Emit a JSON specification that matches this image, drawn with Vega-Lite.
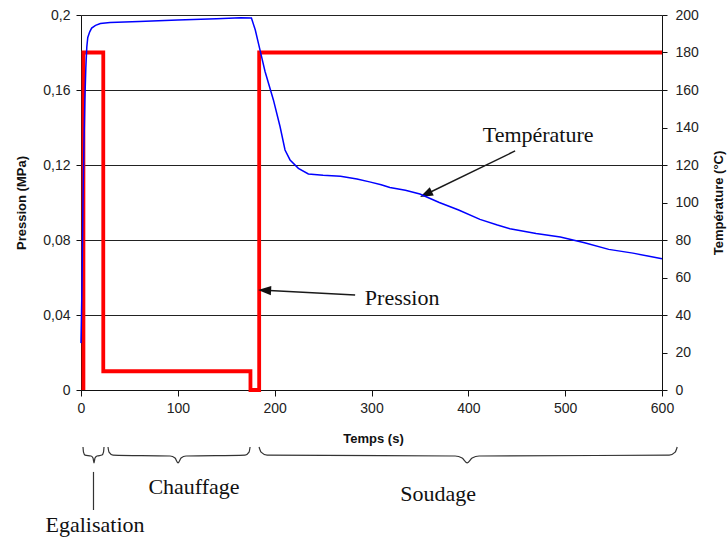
{
  "$schema": "https://vega.github.io/schema/vega-lite/v6.json",
  "width": 581,
  "height": 375,
  "autosize": {"type": "none"},
  "padding": {"left": 81, "top": 15, "right": 65, "bottom": 149},
  "background": "white",
  "config": {
    "view": {"stroke": null},
    "axis": {
      "labelFont": "Liberation Sans",
      "labelFontSize": 14,
      "labelColor": "#222222",
      "titleFont": "Liberation Sans",
      "titleFontSize": 13,
      "titleFontWeight": "bold",
      "titleColor": "#111111",
      "domainColor": "#111111",
      "tickColor": "#111111",
      "domainWidth": 1,
      "tickWidth": 1,
      "gridColor": "#222222",
      "gridWidth": 1,
      "gridOpacity": 1
    }
  },
  "datasets": {
    "pression": [
      {"i": 0, "t": 2.5, "P": 0},
      {"i": 1, "t": 2.5, "P": 0.18},
      {"i": 2, "t": 23, "P": 0.18},
      {"i": 3, "t": 23, "P": 0.01},
      {"i": 4, "t": 175, "P": 0.01},
      {"i": 5, "t": 175, "P": 0},
      {"i": 6, "t": 184, "P": 0},
      {"i": 7, "t": 184, "P": 0.18},
      {"i": 8, "t": 600, "P": 0.18}
    ],
    "temperature": [
      {"t": 0, "T": 25}, {"t": 1, "T": 55}, {"t": 2, "T": 100}, {"t": 3, "T": 130},
      {"t": 4, "T": 155}, {"t": 5, "T": 172}, {"t": 6, "T": 183}, {"t": 7, "T": 188},
      {"t": 9, "T": 191}, {"t": 11, "T": 193}, {"t": 15, "T": 194.5}, {"t": 20, "T": 195.5},
      {"t": 30, "T": 196}, {"t": 60, "T": 196.5}, {"t": 100, "T": 197.3}, {"t": 140, "T": 198},
      {"t": 165, "T": 198.5}, {"t": 176, "T": 198.4}, {"t": 180, "T": 192}, {"t": 185, "T": 181},
      {"t": 190, "T": 170}, {"t": 198.7, "T": 154.7}, {"t": 205.6, "T": 140.4}, {"t": 210.7, "T": 128},
      {"t": 215.9, "T": 122.7}, {"t": 224.5, "T": 118.2}, {"t": 234.8, "T": 115.2}, {"t": 250, "T": 114.5},
      {"t": 268, "T": 114}, {"t": 285, "T": 112.5}, {"t": 298, "T": 111}, {"t": 310, "T": 109.5},
      {"t": 319, "T": 108}, {"t": 335, "T": 106.5}, {"t": 350, "T": 104.5}, {"t": 370, "T": 100},
      {"t": 390, "T": 96}, {"t": 412, "T": 91}, {"t": 430, "T": 88}, {"t": 443, "T": 86},
      {"t": 470, "T": 83.5}, {"t": 495, "T": 81.6}, {"t": 520, "T": 78.5}, {"t": 545, "T": 75},
      {"t": 570, "T": 73}, {"t": 600, "T": 70}
    ],
    "braces": [
      {"g": "E", "t": 2.07, "P": -0.0304}, {"g": "E", "t": 2.58, "P": -0.0331}, {"g": "E", "t": 4.13, "P": -0.0347},
      {"g": "E", "t": 10.33, "P": -0.0352}, {"g": "E", "t": 12.4, "P": -0.0363}, {"g": "E", "t": 13.43, "P": -0.0389},
      {"g": "E", "t": 14.46, "P": -0.0363}, {"g": "E", "t": 16.53, "P": -0.0352}, {"g": "E", "t": 21.69, "P": -0.0347},
      {"g": "E", "t": 23.24, "P": -0.0331}, {"g": "E", "t": 23.76, "P": -0.0304},
      {"g": "C", "t": 27.89, "P": -0.0304}, {"g": "C", "t": 28.93, "P": -0.0331}, {"g": "C", "t": 33.06, "P": -0.0347},
      {"g": "C", "t": 91.94, "P": -0.0352}, {"g": "C", "t": 97.11, "P": -0.0363}, {"g": "C", "t": 100.21, "P": -0.0389},
      {"g": "C", "t": 103.31, "P": -0.0363}, {"g": "C", "t": 108.47, "P": -0.0352}, {"g": "C", "t": 169.42, "P": -0.0347},
      {"g": "C", "t": 173.55, "P": -0.0331}, {"g": "C", "t": 174.59, "P": -0.0304},
      {"g": "S", "t": 183.88, "P": -0.0304}, {"g": "S", "t": 185.95, "P": -0.0331}, {"g": "S", "t": 192.15, "P": -0.0347},
      {"g": "S", "t": 386.36, "P": -0.0352}, {"g": "S", "t": 393.6, "P": -0.0363}, {"g": "S", "t": 398.76, "P": -0.0389},
      {"g": "S", "t": 403.93, "P": -0.0363}, {"g": "S", "t": 411.16, "P": -0.0352}, {"g": "S", "t": 607.44, "P": -0.0347},
      {"g": "S", "t": 613.64, "P": -0.0331}, {"g": "S", "t": 615.7, "P": -0.0304}
    ],
    "stem": [
      {"i": 0, "t": 12.9, "P": -0.0437},
      {"i": 1, "t": 12.9, "P": -0.064}
    ],
    "arrows": [
      {"g": "T", "i": 0, "t": 448.3, "P": 0.1275},
      {"g": "T", "i": 1, "t": 356.2, "P": 0.1044},
      {"g": "P", "i": 0, "t": 283.1, "P": 0.0507},
      {"g": "P", "i": 1, "t": 189.6, "P": 0.0532}
    ],
    "labels": [
      {"label": "Température", "t": 472.1, "P": 0.1323},
      {"label": "Pression", "t": 331.6, "P": 0.0453},
      {"label": "Egalisation", "t": 14.46, "P": -0.0757},
      {"label": "Chauffage", "t": 116.7, "P": -0.0555},
      {"label": "Soudage", "t": 368.8, "P": -0.0592}
    ]
  },
  "layer": [
    {
      "layer": [
        {
          "data": {"name": "pression"},
          "mark": {"type": "line", "color": "#ff0000", "strokeWidth": 3.8, "strokeJoin": "miter", "strokeCap": "butt", "clip": false},
          "encoding": {
            "x": {
              "field": "t", "type": "quantitative",
              "scale": {"domain": [0, 600], "nice": false, "zero": false},
              "axis": {
                "title": "Temps (s)",
                "values": [0, 100, 200, 300, 400, 500, 600],
                "grid": false,
                "tickSize": 6,
                "labelPadding": 5,
                "labelFlush": false,
                "titleX": 292,
                "titleY": 48,
                "titleBaseline": "middle"
              }
            },
            "y": {
              "field": "P", "type": "quantitative",
              "scale": {"domain": [0, 0.2], "nice": false, "zero": false},
              "axis": {
                "orient": "left",
                "title": "Pression (MPa)",
                "values": [0, 0.04, 0.08, 0.12, 0.16, 0.2],
                "grid": true,
                "tickSize": 5,
                "labelPadding": 6,
                "labelFlush": false,
                "labelExpr": "replace(format(datum.value, '~g'), '.', ',')",
                "titleX": -60,
                "titleY": 187.5,
                "titleAngle": -90,
                "titleBaseline": "middle"
              }
            },
            "order": {"field": "i", "type": "quantitative"}
          }
        },
        {
          "data": {"name": "braces"},
          "mark": {"type": "line", "color": "#333333", "strokeWidth": 1.2, "interpolate": "monotone", "clip": false},
          "encoding": {
            "x": {"field": "t", "type": "quantitative"},
            "y": {"field": "P", "type": "quantitative"},
            "detail": {"field": "g"}
          }
        },
        {
          "data": {"name": "stem"},
          "mark": {"type": "line", "color": "#333333", "strokeWidth": 1.2, "clip": false},
          "encoding": {
            "x": {"field": "t", "type": "quantitative"},
            "y": {"field": "P", "type": "quantitative"},
            "order": {"field": "i", "type": "quantitative"}
          }
        },
        {
          "data": {"name": "arrows"},
          "mark": {"type": "line", "color": "#1a1a1a", "strokeWidth": 1.4, "clip": false},
          "encoding": {
            "x": {"field": "t", "type": "quantitative"},
            "y": {"field": "P", "type": "quantitative"},
            "detail": {"field": "g"},
            "order": {"field": "i", "type": "quantitative"}
          }
        },
        {
          "data": {"name": "arrows"},
          "transform": [{"filter": "datum.g === 'T' && datum.i === 1"}],
          "mark": {"type": "point", "shape": "M0,-1L-0.7,1L0.7,1Z", "size": 169, "filled": true, "color": "#111111", "opacity": 1, "angle": 244},
          "encoding": {
            "x": {"field": "t", "type": "quantitative"},
            "y": {"field": "P", "type": "quantitative"}
          }
        },
        {
          "data": {"name": "arrows"},
          "transform": [{"filter": "datum.g === 'P' && datum.i === 1"}],
          "mark": {"type": "point", "shape": "M0,-1L-0.7,1L0.7,1Z", "size": 169, "filled": true, "color": "#111111", "opacity": 1, "angle": 273},
          "encoding": {
            "x": {"field": "t", "type": "quantitative"},
            "y": {"field": "P", "type": "quantitative"}
          }
        },
        {
          "data": {"name": "labels"},
          "mark": {"type": "text", "font": "Liberation Serif", "fontSize": 22, "color": "#111111", "align": "center", "baseline": "alphabetic"},
          "encoding": {
            "x": {"field": "t", "type": "quantitative"},
            "y": {"field": "P", "type": "quantitative"},
            "text": {"field": "label"}
          }
        }
      ]
    },
    {
      "data": {"name": "temperature"},
      "mark": {"type": "line", "color": "#0000ff", "strokeWidth": 1.5, "clip": false},
      "encoding": {
        "x": {"field": "t", "type": "quantitative"},
        "y": {
          "field": "T", "type": "quantitative",
          "scale": {"domain": [0, 200], "nice": false, "zero": false},
          "axis": {
            "orient": "right",
            "title": "Température (°C)",
            "values": [0, 20, 40, 60, 80, 100, 120, 140, 160, 180, 200],
            "grid": false,
            "tickSize": 5,
            "labelPadding": 8,
            "labelFlush": false,
            "titleX": 56,
            "titleY": 187.5,
            "titleAngle": -90,
            "titleBaseline": "middle"
          }
        }
      }
    }
  ],
  "resolve": {"scale": {"y": "independent"}, "axis": {"y": "independent"}}
}
